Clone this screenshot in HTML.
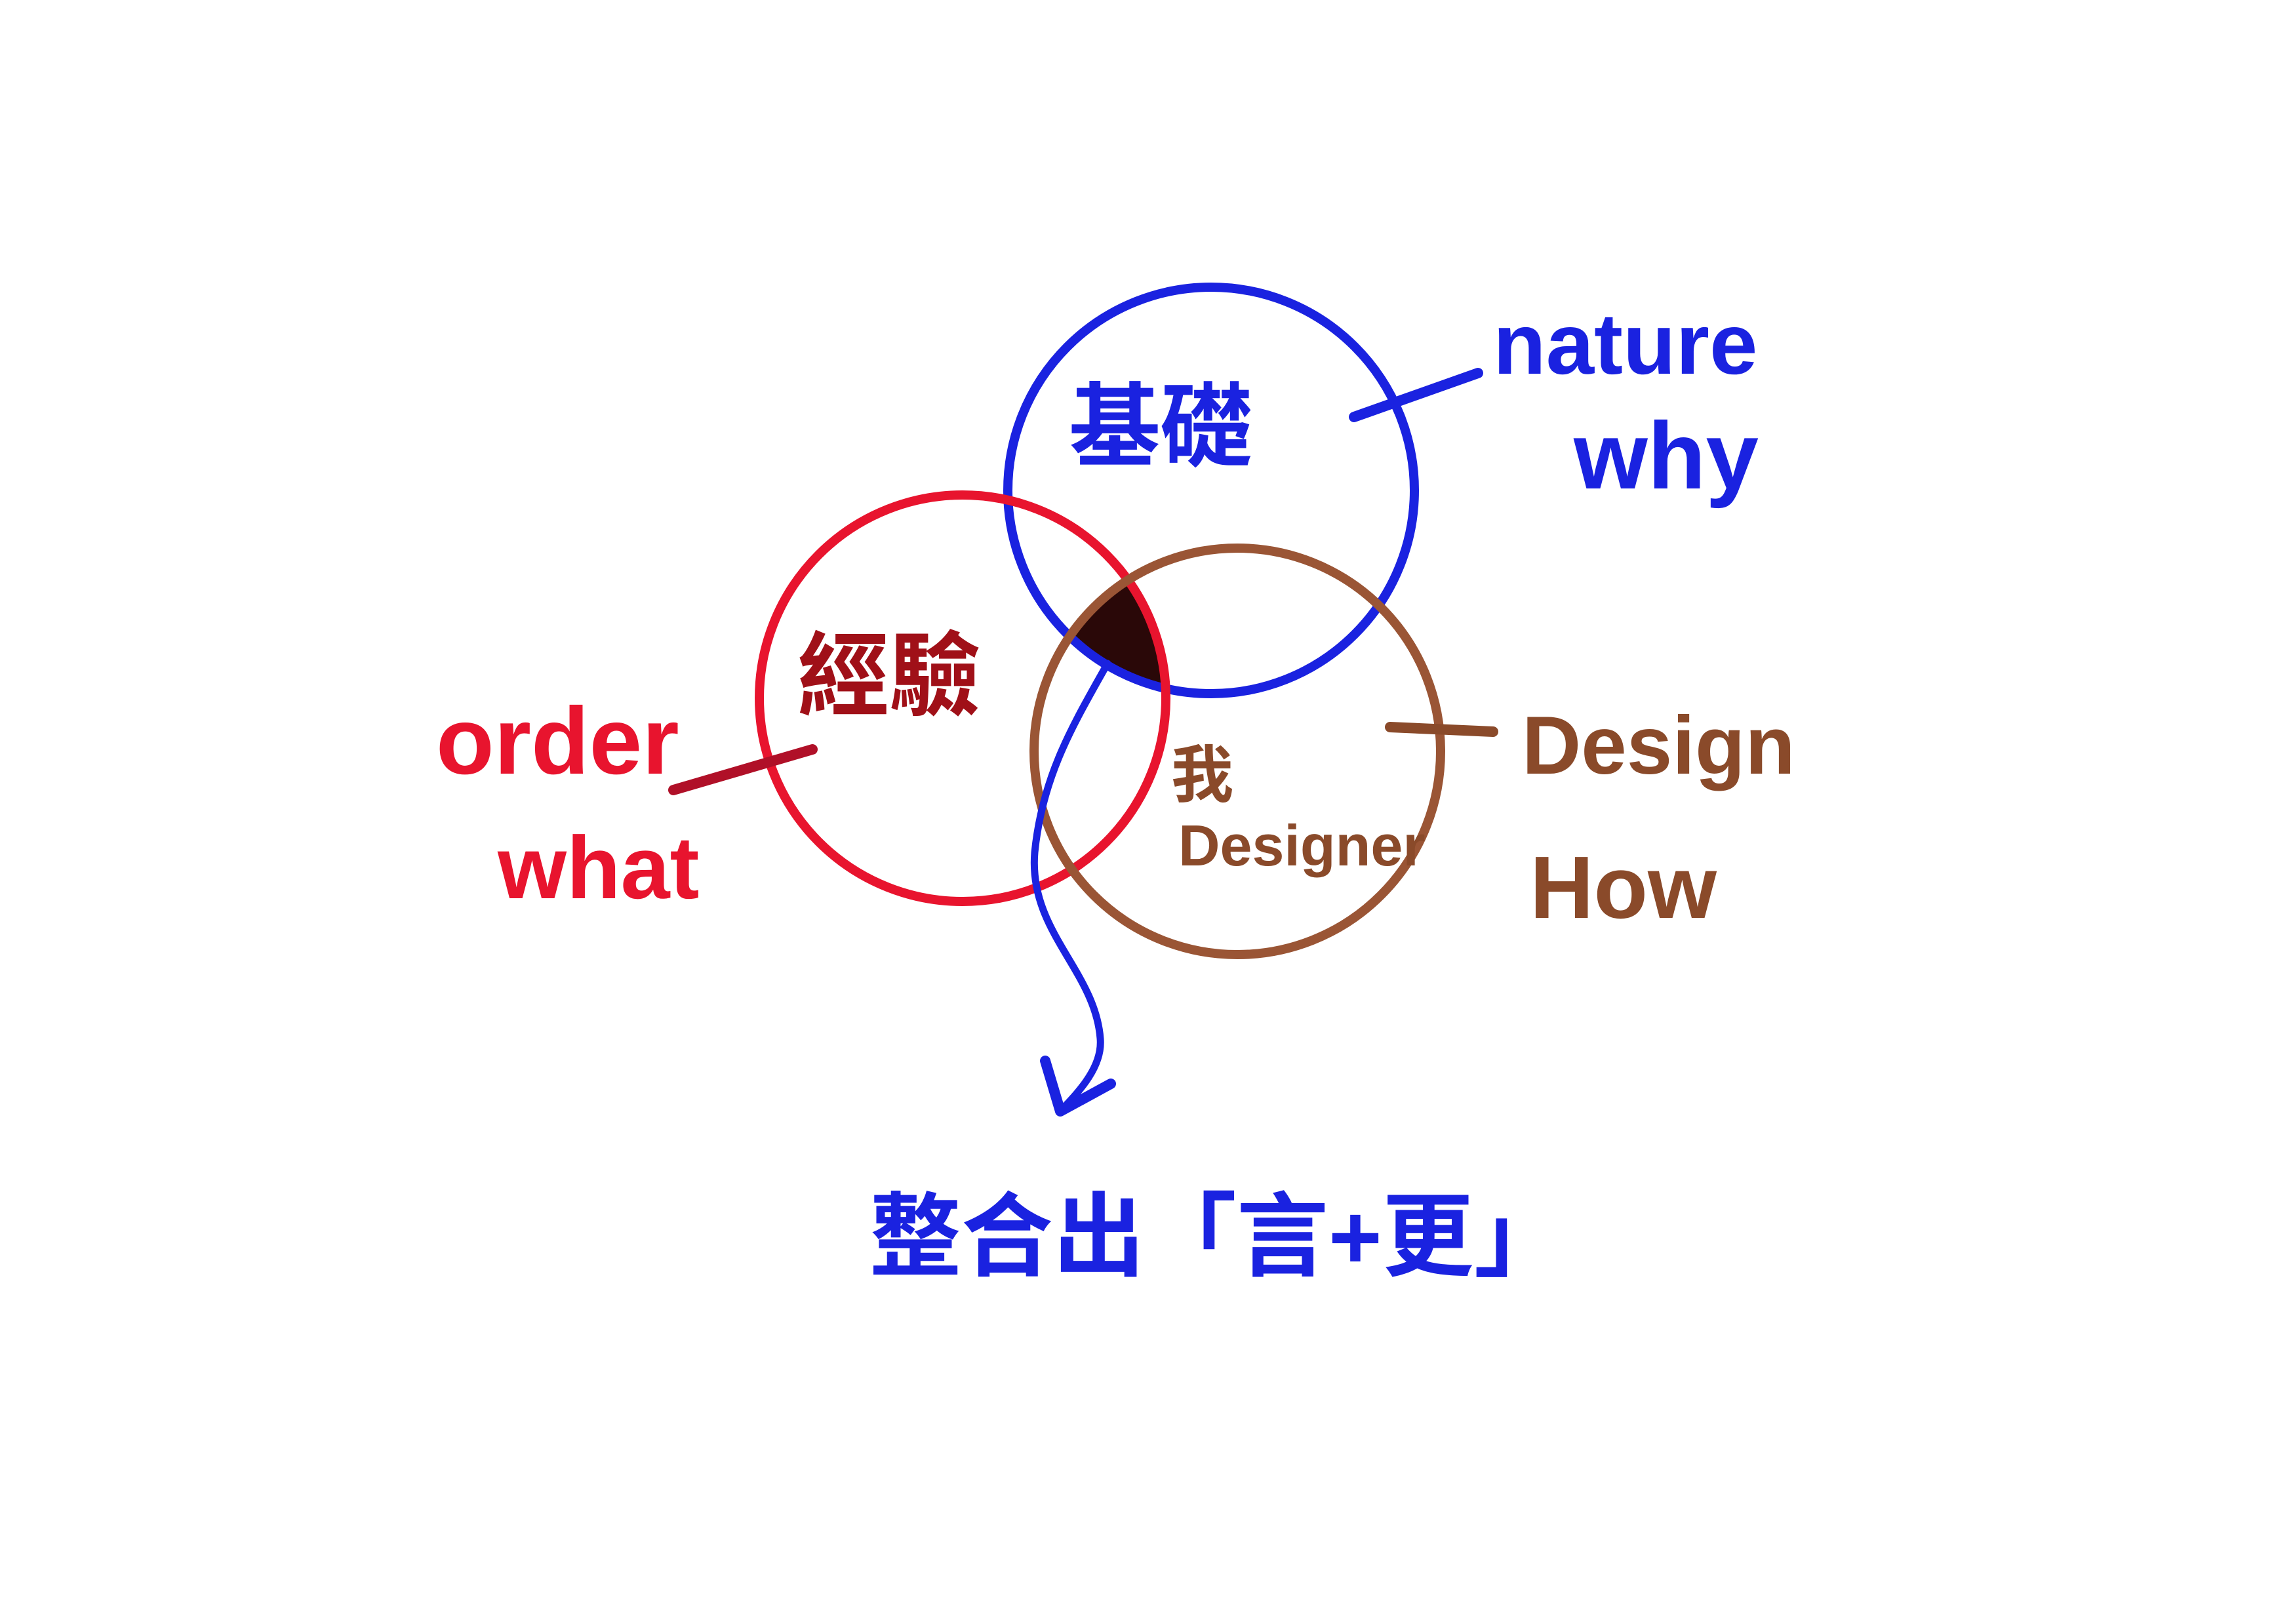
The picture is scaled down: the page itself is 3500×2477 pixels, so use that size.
<!DOCTYPE html>
<html><head><meta charset="utf-8"><style>
html,body{margin:0;padding:0;background:#fff}
svg{display:block}
text{font-family:"Liberation Sans","Noto Sans CJK TC",sans-serif;font-weight:bold}
</style></head><body>
<svg width="3500" height="2477" viewBox="0 0 3500 2477" xmlns="http://www.w3.org/2000/svg">
<defs>
<clipPath id="cb"><circle cx="1847" cy="748" r="310"/></clipPath>
<clipPath id="cr"><circle cx="1468" cy="1065" r="310"/></clipPath>
</defs>
<rect width="3500" height="2477" fill="#fff"/>
<g clip-path="url(#cb)"><g clip-path="url(#cr)"><circle cx="1887" cy="1146" r="310" fill="#2a0808"/></g></g>
<circle cx="1847" cy="748" r="310" fill="none" stroke="#1a22e0" stroke-width="14"/>
<circle cx="1468" cy="1065" r="310" fill="none" stroke="#e8142e" stroke-width="14"/>
<circle cx="1887" cy="1146" r="310" fill="none" stroke="#9a5535" stroke-width="14"/>
<path d="M1689 1012 C1640 1100 1590 1180 1578 1300 C1568 1420 1670 1480 1678 1584 C1682 1630 1640 1670 1617 1695" fill="none" stroke="#1a22e0" stroke-width="11" stroke-linecap="round"/>
<path d="M1594 1618 L1617 1695 L1694 1653" fill="none" stroke="#1a22e0" stroke-width="16" stroke-linecap="round" stroke-linejoin="round"/>
<line x1="2065" y1="636" x2="2254" y2="569" stroke="#1a22e0" stroke-width="16" stroke-linecap="round"/>
<line x1="1027" y1="1205" x2="1239" y2="1143" stroke="#b01028" stroke-width="16" stroke-linecap="round"/>
<line x1="2120" y1="1109" x2="2277" y2="1116" stroke="#8a4a2a" stroke-width="16" stroke-linecap="round"/>
<text x="2277" y="570" font-size="132" fill="#1a22e0">nature</text>
<text x="2400" y="745" font-size="145" fill="#1a22e0">why</text>
<text x="665" y="1180" font-size="145" fill="#e8142e">order</text>
<text x="759" y="1370" font-size="135" fill="#e8142e">what</text>
<text x="2321" y="1180" font-size="125" fill="#8a4a2a">Design</text>
<text x="2333" y="1400" font-size="135" fill="#8a4a2a">How</text>
<text x="1630" y="700" font-size="140" fill="#1a22e0">基礎</text>
<text x="1216" y="1080" font-size="140" fill="#a01018">經驗</text>
<text x="1786" y="1215" font-size="95" fill="#8a4a2a">我</text>
<text x="1797" y="1320" font-size="88" fill="#8a4a2a">Designer</text>
<text x="1326" y="1935" font-size="140" fill="#1a22e0">整合出「言+更」</text>
</svg>
</body></html>
